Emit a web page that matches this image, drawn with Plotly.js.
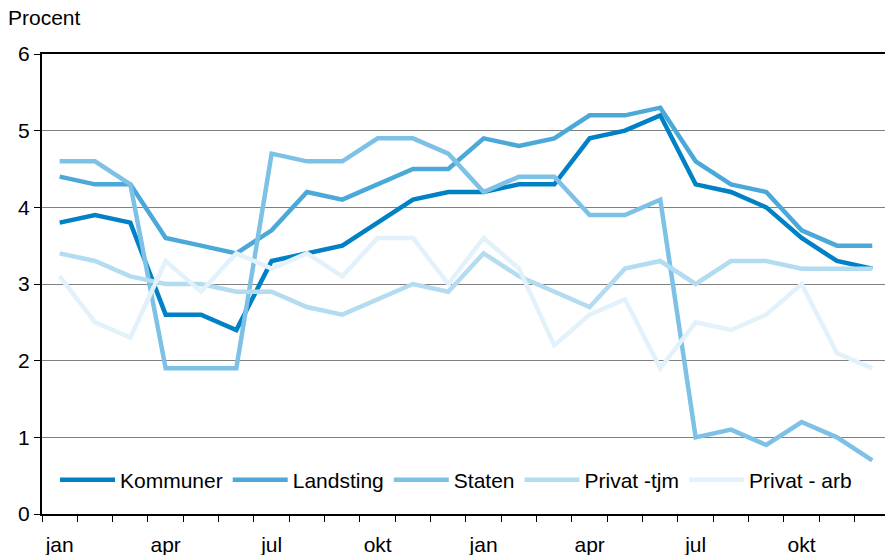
<!DOCTYPE html>
<html>
<head>
<meta charset="utf-8">
<script src="https://cdn.plot.ly/plotly-3.0.1.min.js"></script>
<style>html,body{margin:0;padding:0;background:#fff;}#chart{width:885px;height:555px;}</style>
</head>
<body>
<div id="chart"></div>
<script>
const months = ['jan','feb','mar','apr','maj','jun','jul','aug','sep','okt','nov','dec',
                'jan','feb','mar','apr','maj','jun','jul','aug','sep','okt','nov','dec'];
const seriesNames = ['Kommuner','Landsting','Staten','Privat -tjm','Privat - arb'];
const kommuner  = [3.8,3.9,3.8,2.6,2.6,2.4,3.3,3.4,3.5,3.8,4.1,4.2,4.2,4.3,4.3,4.9,5.0,5.2,4.3,4.2,4.0,3.6,3.3,3.2];
const landsting = [4.4,4.3,4.3,3.6,3.5,3.4,3.7,4.2,4.1,4.3,4.5,4.5,4.9,4.8,4.9,5.2,5.2,5.3,4.6,4.3,4.2,3.7,3.5,3.5];
const staten    = [4.6,4.6,4.3,1.9,1.9,1.9,4.7,4.6,4.6,4.9,4.9,4.7,4.2,4.4,4.4,3.9,3.9,4.1,1.0,1.1,0.9,1.2,1.0,0.7];
const privatTjm = [3.4,3.3,3.1,3.0,3.0,2.9,2.9,2.7,2.6,2.8,3.0,2.9,3.4,3.1,2.9,2.7,3.2,3.3,3.0,3.3,3.3,3.2,3.2,3.2];
const privatArb = [3.1,2.5,2.3,3.3,2.9,3.4,3.2,3.4,3.1,3.6,3.6,3.0,3.6,3.2,2.2,2.6,2.8,1.9,2.5,2.4,2.6,3.0,2.1,1.9];
const tickLabels = ['jan','apr','jul','okt','jan','apr','jul','okt'];

const colors = ['#0081C6','#4BA9DA','#7DC2E6','#B3DCF1','#E2F1FA'];
const values = [kommuner, landsting, staten, privatTjm, privatArb];
const xIdx = months.map((m,i)=>i);
const tickIdx = months.map((m,i)=>i).filter(i=>i%3===0);

const traces = values.map((v,k)=>({
  x: xIdx, y: v, type:'scatter', mode:'lines', name: seriesNames[k],
  line:{color:colors[k], width:4.5, shape:'linear'},
  hoverinfo:'x+y'
}));

const font = {family:'Liberation Sans, Arial, sans-serif', size:21, color:'#000'};
const layout = {
  width:885, height:555,
  margin:{l:42, r:0, t:54, b:41},
  paper_bgcolor:'#fff', plot_bgcolor:'#fff',
  font: font,
  showlegend:true,
  title:{text:'Procent', xref:'container', yref:'container', x:8/885, xanchor:'left', y:1-18/555, yanchor:'middle', font:font},
  xaxis:{
    range:[-0.5, 23.36], showgrid:false, zeroline:false,
    tickmode:'array', tickvals:tickIdx, ticktext:tickLabels,
    ticks:'', ticklabelstandoff:11,
    showline:true, linecolor:'#000', linewidth:2, mirror:true,
    minor:{tick0:-0.5, dtick:1, ticks:'outside', ticklen:6, tickcolor:'#000', tickwidth:1, showgrid:false},
    tickfont:font, fixedrange:true
  },
  yaxis:{
    range:[0,6], dtick:1, tick0:0, showgrid:true, gridcolor:'#808080', gridwidth:1,
    zeroline:false, showline:true, linecolor:'#000', linewidth:2,
    ticks:'outside', ticklen:6, tickcolor:'#000', tickwidth:1,
    tickfont:font, fixedrange:true
  },
  legend:{orientation:'h', x:(55-42)/843, xanchor:'left', y:(514-480)/460, yanchor:'middle',
          bgcolor:'rgba(0,0,0,0)', font:font, itemwidth:55, traceorder:'normal', tracegroupgap:0}
};
Plotly.newPlot('chart', traces, layout, {staticPlot:true, displayModeBar:false});
</script>
</body>
</html>
